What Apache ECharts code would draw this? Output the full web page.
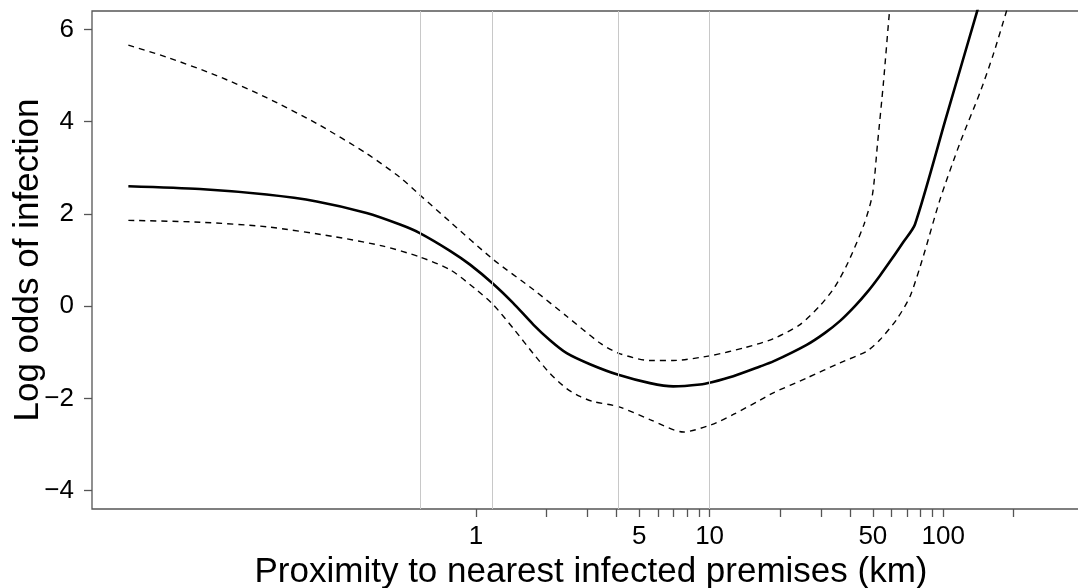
<!DOCTYPE html>
<html>
<head>
<meta charset="utf-8">
<script src="https://cdn.jsdelivr.net/npm/echarts@6/dist/echarts.min.js"></script>
<style>
  html, body { margin: 0; padding: 0; background: #fff; }
  #chart { width: 1078px; height: 588px; }
</style>
</head>
<body>
<div id="chart"></div>
<script>
// Fitted log odds of infection against distance (km) to the nearest infected premises
const fitKm = [0.0325, 0.0658, 0.127, 0.208, 0.340, 0.473, 0.572, 0.774, 0.943, 1.186,
  1.440, 1.759, 2.074, 2.445, 3.076, 4.067, 5.557, 6.99, 9.10, 10.21,
  12.63, 16.44, 18.74, 26.04, 31.2, 36.2, 41.9, 47.6, 53.6, 60.4,
  67.3, 75.7, 102.8, 140.0, 157.4];
const fitLogOdds = [2.60, 2.54, 2.42, 2.27, 2.02, 1.77, 1.59, 1.20, 0.90, 0.48,
  0.07, -0.40, -0.74, -1.02, -1.26, -1.49, -1.67, -1.74, -1.70, -1.65,
  -1.52, -1.31, -1.20, -0.84, -0.58, -0.32, 0.00, 0.32, 0.66, 1.03,
  1.38, 1.77, 4.08, 6.41, 7.30];

// Upper confidence limit
const upperKm = [0.0325, 0.0474, 0.0776, 0.127, 0.208, 0.340, 0.473, 0.572, 0.774, 1.186,
  1.759, 2.445, 3.395, 4.067, 5.557, 6.99, 10.21, 14.17, 18.68, 24.4,
  29.7, 34.4, 39.1, 45.8, 49.8, 52.3, 55.5, 58.96, 61.5];
const upperLogOdds = [5.66, 5.40, 5.00, 4.52, 3.96, 3.31, 2.79, 2.42, 1.83, 1.01,
  0.36, -0.22, -0.80, -1.02, -1.18, -1.18, -1.07, -0.90, -0.71, -0.40,
  0.01, 0.42, 0.94, 1.77, 2.42, 3.50, 4.85, 6.41, 7.30];

// Lower confidence limit
const lowerKm = [0.0325, 0.0658, 0.127, 0.245, 0.401, 0.572, 0.774, 0.990, 1.186, 1.469,
  1.759, 2.074, 2.445, 2.787, 3.178, 4.067, 5.557, 7.72, 10.21, 12.63,
  16.44, 18.74, 26.04, 36.2, 47.0, 53.6, 63.2, 72.1, 82.2, 96.9,
  118.0, 143.7, 163.9, 187.0, 211.5];
const lowerLogOdds = [1.86, 1.82, 1.72, 1.51, 1.30, 1.07, 0.79, 0.38, 0.03, -0.53,
  -1.03, -1.46, -1.79, -1.96, -2.07, -2.18, -2.46, -2.73, -2.57, -2.35,
  -2.04, -1.88, -1.56, -1.23, -0.98, -0.73, -0.29, 0.21, 1.08, 2.31,
  3.54, 4.63, 5.46, 6.41, 7.30];

// Reference distances marked with light vertical rules
const ruleKm = [0.572, 1.186, 4.04, 10.1];

// Axis ticks and labels
const xTickKm = [1, 2, 3, 4, 5, 6, 7, 8, 9, 10, 20, 30, 40, 50, 60, 70, 80, 90, 100, 200];
const xLabelKm = [1, 5, 10, 50, 100];
const yTicks = [-4, -2, 0, 2, 4, 6];
const yRange = [-4.4, 6.4];
const xRangeLog = [-1.6438, 2.6285];

const lg = v => Math.log10(v);
const pairs = (xs, ys) => xs.map((x, i) => [lg(x), ys[i]]);

const FONT = '"Liberation Sans", Arial, Helvetica, sans-serif';
const AXIS_COLOR = '#555555';

const chart = echarts.init(document.getElementById('chart'), null, { renderer: 'canvas' });

chart.setOption({
  animation: false,
  backgroundColor: '#ffffff',
  grid: {
    left: 92, top: 11, right: -12, bottom: 79,
    containLabel: false,
    outerBoundsMode: 'none',
    show: true, borderColor: AXIS_COLOR, borderWidth: 1.3,
    backgroundColor: 'transparent'
  },
  xAxis: {
    type: 'value',
    min: xRangeLog[0], max: xRangeLog[1],
    name: 'Proximity to nearest infected premises (km)',
    nameLocation: 'middle',
    nameGap: 46,
    nameMoveOverlap: false,
    nameTextStyle: { fontFamily: FONT, fontSize: 35, color: '#000', lineHeight: 35 },
    axisLine: { show: false, onZero: false },
    splitLine: { show: false },
    axisTick: {
      show: true, length: 8, inside: false,
      customValues: xTickKm.map(lg),
      lineStyle: { color: AXIS_COLOR, width: 1.3 }
    },
    axisLabel: {
      show: true, margin: 15,
      customValues: xLabelKm.map(lg),
      fontFamily: FONT, fontSize: 26, color: '#000',
      formatter: v => String(Math.round(Math.pow(10, v)))
    }
  },
  yAxis: {
    type: 'value',
    min: yRange[0], max: yRange[1],
    name: 'Log odds of infection',
    nameLocation: 'middle',
    nameRotate: 90,
    nameGap: 46,
    nameMoveOverlap: false,
    nameTextStyle: { fontFamily: FONT, fontSize: 35, color: '#000', lineHeight: 35 },
    axisLine: { show: false, onZero: false },
    splitLine: { show: false },
    axisTick: {
      show: true, length: 8,
      customValues: yTicks,
      lineStyle: { color: AXIS_COLOR, width: 1.3 }
    },
    axisLabel: {
      show: true, margin: 18,
      customValues: yTicks,
      fontFamily: FONT, fontSize: 26, color: '#000',
      formatter: v => (v < 0 ? '\u2212' + Math.abs(v) : String(v))
    }
  },
  series: [
    {
      name: 'rules',
      type: 'line',
      data: [],
      z: 1,
      silent: true,
      markLine: {
        silent: true,
        symbol: ['none', 'none'],
        label: { show: false },
        lineStyle: { color: '#c8c8c8', width: 1, type: 'solid' },
        data: ruleKm.map(k => ({ xAxis: lg(k) }))
      }
    },
    {
      name: 'upper',
      type: 'line',
      data: pairs(upperKm, upperLogOdds),
      showSymbol: false,
      smooth: 0.25,
      z: 3,
      lineStyle: { color: '#000', width: 1.4, type: [6, 5] }
    },
    {
      name: 'lower',
      type: 'line',
      data: pairs(lowerKm, lowerLogOdds),
      showSymbol: false,
      smooth: 0.25,
      z: 3,
      lineStyle: { color: '#000', width: 1.4, type: [6, 5] }
    },
    {
      name: 'fit',
      type: 'line',
      data: pairs(fitKm, fitLogOdds),
      showSymbol: false,
      smooth: 0.25,
      z: 4,
      lineStyle: { color: '#000', width: 2.6, type: 'solid' }
    }
  ]
});
</script>
</body>
</html>
